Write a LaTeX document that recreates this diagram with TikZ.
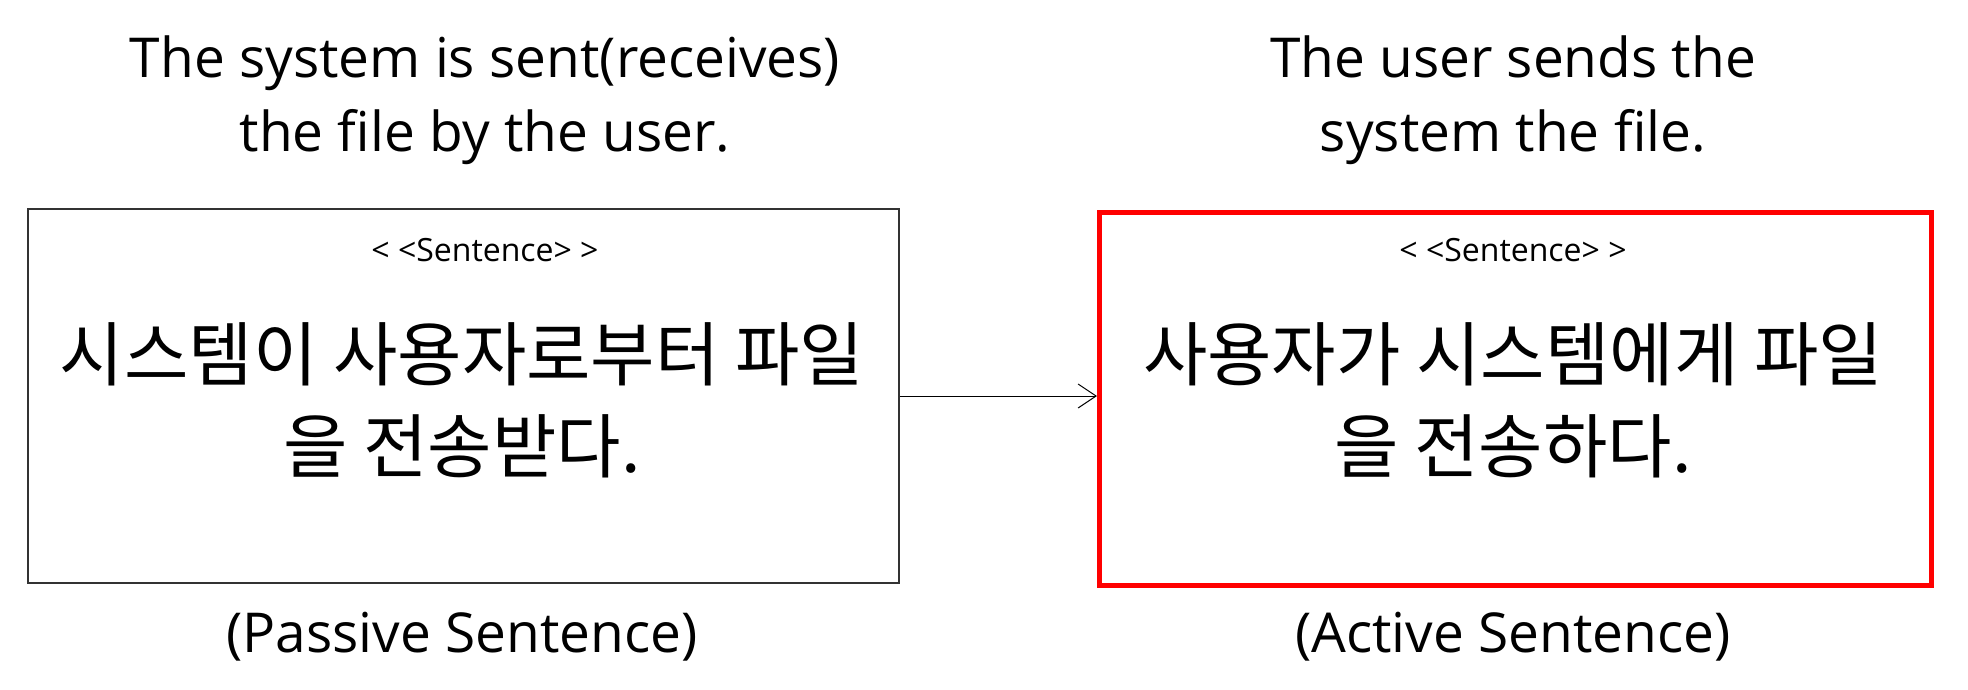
\documentclass[tikz,border=0pt]{standalone}
\usepackage{fontspec}
\setmainfont{Open Sans}
\newfontfamily\kr{Noto Sans CJK KR}
\usetikzlibrary{arrows.meta}
\begin{document}
\begin{tikzpicture}[x=1pt,y=-1pt,
 title/.style={align=center,font=\fontsize{55}{74}\selectfont},
 stereo/.style={font=\fontsize{32}{38}\selectfont},
 kor/.style={align=center,font=\kr\fontsize{70}{92}\selectfont}]
\useasboundingbox (0,0) rectangle (1968,689);
\node[draw=black!80,line width=2pt,minimum width=871,minimum height=374,anchor=north west] (L) at (27,208) {};
\node[draw=red,line width=5pt,minimum width=832,minimum height=373,anchor=north west] (R) at (1097,210) {};
\draw[-{Straight Barb[length=18pt,width=24pt]},line width=1pt] (L.east) -- (L.east -| R.west);
\node[title] (tl) at (485,100) {The system is sent(receives)\\the file by the user.};
\node[title] (tr) at (1513,100) {The user sends the\\system the file.};
\node[stereo] (sl) at (485,250) {< <Sentence> >};
\node[stereo] (sr) at (1513,250) {< <Sentence> >};
\node[kor] (kl) at (462,400) {시스템이 사용자로부터 파일\\을 전송받다.};
\node[kor] (kr2) at (1513,400) {사용자가 시스템에게 파일\\을 전송하다.};
\node[title] (bl) at (462,637) {(Passive Sentence)};
\node[title] (br) at (1513,637) {(Active Sentence)};
\end{tikzpicture}
\end{document}
